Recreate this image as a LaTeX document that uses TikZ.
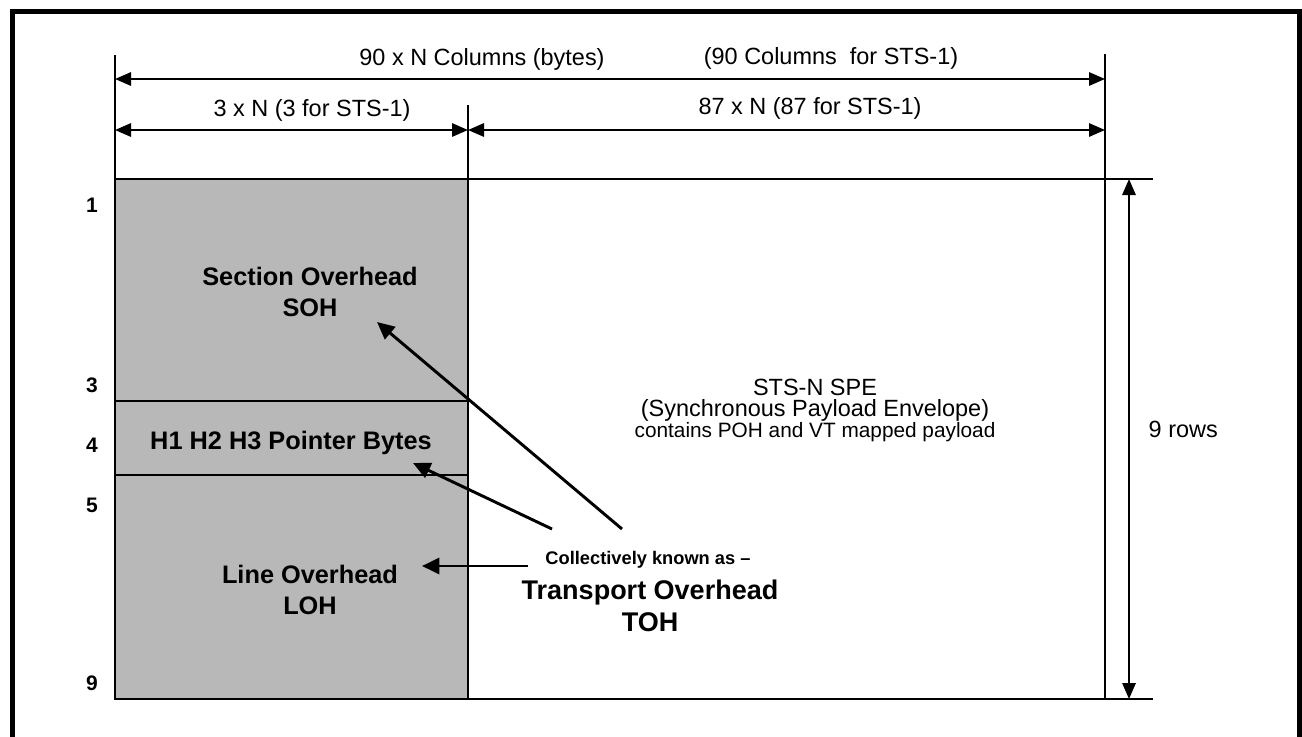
\documentclass[tikz,border=0pt]{standalone}
\usepackage{fontspec}
\setmainfont{Liberation Sans}
\usetikzlibrary{arrows.meta}
\definecolor{ohgray}{RGB}{184,184,184}
\tikzset{
  dimline/.style={line width=1.5pt},
  dimarrow/.style={line width=1.5pt, {Triangle[length=12pt,width=10pt]}-{Triangle[length=12pt,width=10pt]}},
  pointer/.style={line width=2.2pt, -{Triangle[length=13pt,width=12pt]}},
  plainlabel/.style={font=\fontsize{17.6}{21}\selectfont},
  ohlabel/.style={font=\fontsize{19}{23}\selectfont\bfseries, align=center},
  rownum/.style={font=\fontsize{15.75}{18}\selectfont\bfseries},
}
\begin{document}
\begin{tikzpicture}[x=0.75pt,y=-0.75pt]
    % Page and outer frame (bottom edge runs off the page)
    \useasboundingbox (0,0) rectangle (1302,736);
    \draw[line width=3.75pt] (12,740) -- (12,11) -- (1299.5,11) -- (1299.5,740);

    % Define frame corners
    \coordinate (TL) at (115,179);
    \coordinate (TM) at (468,179);
    \coordinate (TR) at (1105,179);
    \coordinate (BL) at (115,699);
    \coordinate (BM) at (468,699);
    \coordinate (BR) at (1105,699);

    % Overhead columns (shaded)
    \fill[ohgray] (TL) rectangle (BM);
    \draw[dimline] (115,401) -- (468,401);
    \draw[dimline] (115,475) -- (468,475);

    % Frame lines
    \draw[dimline] (115,55) -- (BL) -- (1153,699);
    \draw[dimline] (TL) -- (1153,179);
    \draw[dimline] (468,105) -- (BM);
    \draw[dimline] (1105,54) -- (BR);

    % Dimension arrows
    \draw[dimarrow] (115,79) -- (1105,79);
    \draw[dimarrow] (115,130) -- (468,130);
    \draw[dimarrow] (468,130) -- (1105,130);
    \draw[dimarrow] (1129,179) -- (1129,699);

    \node[plainlabel] (cols) at (482,59) {90 x N Columns (bytes)};
    \node[plainlabel] (colssts) at (831,58) {(90 Columns~~for STS-1)};
    \node[plainlabel] (toh3) at (312,110) {3 x N (3 for STS-1)};
    \node[plainlabel] (spe87) at (810,108) {87 x N (87 for STS-1)};
    \node[plainlabel, anchor=west] (rows) at (1144,429) {9 rows};

    % Row numbers
    \node[rownum] (r1) at (92,205) {1};
    \node[rownum] (r3) at (92,385) {3};
    \node[rownum] (r4) at (92,445) {4};
    \node[rownum] (r5) at (92,505) {5};
    \node[rownum] (r9) at (92,683) {9};

    % Overhead labels
    \node[ohlabel] (soh) at (310,292) {Section Overhead\\SOH};
    \node[ohlabel] (ptr) at (291,443) {H1 H2 H3 Pointer Bytes};
    \node[ohlabel] (loh) at (310,590) {Line Overhead\\LOH};

    % Payload envelope
    \node[plainlabel] (spe) at (815,387) {STS-N SPE};
    \node[plainlabel] (spename) at (815,410) {(Synchronous Payload Envelope)};
    \node[font=\fontsize{15.6}{18}\selectfont] (spepoh) at (815,432) {contains POH and VT mapped payload};

    % Transport overhead note
    \node[font=\fontsize{13.7}{16}\selectfont\bfseries] (known) at (648,560) {Collectively known as --};
    \node[font=\fontsize{20.25}{24}\selectfont\bfseries, align=center] (toh) at (650,606) {Transport Overhead\\TOH};

    \coordinate (a1) at (622,529);
    \coordinate (a2) at (552,529);
    \coordinate (a3) at (528,566);
    \coordinate (t1) at (377,322);
    \coordinate (t2) at (413,463);
    \coordinate (t3) at (422,566);
    \draw[pointer] (a1) -- (t1);
    \draw[pointer] (a2) -- (t2);
    \draw[pointer] (a3) -- (t3);
\end{tikzpicture}
\end{document}
